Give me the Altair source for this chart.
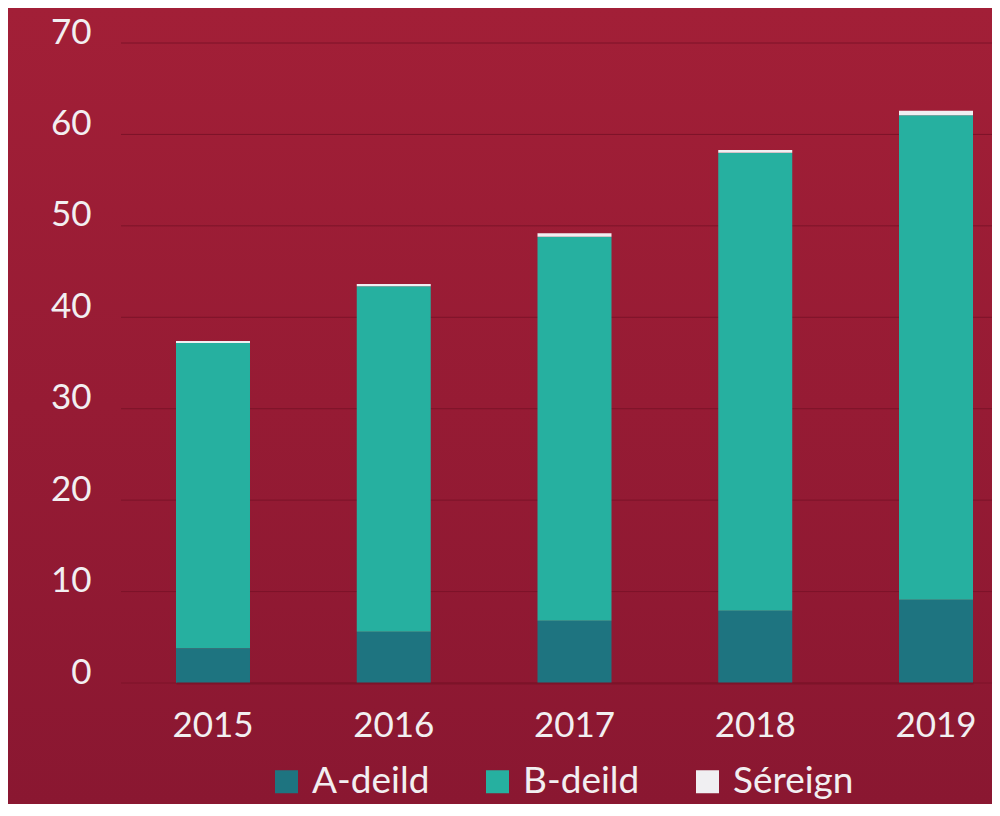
import altair as alt
import pandas as pd

years = ["2015", "2016", "2017", "2018", "2019"]
a_deild = [3.8, 5.6, 6.8, 7.9, 9.1]
b_deild = [33.4, 37.8, 42.0, 50.1, 53.0]
sereign = [0.2, 0.25, 0.4, 0.3, 0.5]
series = ["A-deild", "B-deild", "Séreign"]
colors = ["#1e7480", "#26b0a0", "#f0eff2"]
y_ticks = [0, 10, 20, 30, 40, 50, 60, 70]

rows = []
for i, y in enumerate(years):
    for k, (name, vals) in enumerate(zip(series, [a_deild, b_deild, sereign])):
        rows.append({"year": y, "series": name, "value": vals[i], "ord": k})
df = pd.DataFrame(rows)
ticks_df = pd.DataFrame({"value": y_ticks})
bg_df = pd.DataFrame({"a": [0]})

W, H = 871, 640
PAD_L, PAD_T = 113, 35
TOTAL_H = 796

text_col = "#f2eff1"
grid_col = "#7c1329"

y_axis = alt.Axis(values=y_ticks, labelFontSize=35, labelColor=text_col,
                  labelBaseline="alphabetic", labelPadding=30,
                  ticks=False, tickSize=0, domain=False, grid=False, zindex=1)
y_scale = alt.Scale(domain=[0, 70], nice=False)

bg = alt.Chart(bg_df).mark_rect(
    color=alt.Gradient(
        gradient="linear",
        stops=[alt.GradientStop(color="#a21f37", offset=0),
               alt.GradientStop(color="#8a1731", offset=1)],
        x1=0, x2=0, y1=0, y2=1,
    )
).encode(
    x=alt.value(-PAD_L), x2=alt.value(W),
    y=alt.value(-PAD_T), y2=alt.value(TOTAL_H - PAD_T),
)

rules = alt.Chart(ticks_df).mark_rule(color=grid_col, strokeWidth=1).encode(
    y=alt.Y("value:Q", title="", scale=y_scale, axis=y_axis)
)

bars = alt.Chart(df).mark_bar().encode(
    x=alt.X("year:N", title="",
            scale=alt.Scale(paddingInner=0.5906, paddingOuter=0, range=[55, 852]),
            axis=alt.Axis(labelAngle=0, labelFontSize=35, labelColor=text_col,
                          labelBaseline="alphabetic", labelPadding=53,
                          ticks=False, tickSize=0, domain=True,
                          domainColor=grid_col, domainWidth=2, grid=False, zindex=1)),
    y=alt.Y("value:Q", stack="zero", title="", scale=y_scale, axis=y_axis),
    color=alt.Color("series:N",
                    scale=alt.Scale(domain=series, range=colors),
                    legend=alt.Legend(orient="none", legendX=147, legendY=720,
                                      direction="horizontal", title=None,
                                      symbolType="square", symbolSize=529,
                                      symbolStrokeWidth=0, symbolOpacity=1,
                                      labelFontSize=37, labelColor=text_col,
                                      labelOffset=7, columnPadding=49, padding=0)),
    order=alt.Order("ord:Q"),
)

chart = alt.layer(bg, rules, bars).properties(
    width=W, height=H,
    autosize=alt.AutoSizeParams(type="none"),
    padding={"left": PAD_L, "top": PAD_T, "right": 0, "bottom": TOTAL_H - PAD_T - H},
    background="#961b34",
).configure(font="Lato").configure_view(stroke="transparent")

chart.save("out.html", embed_options={"renderer": "svg", "actions": False})
